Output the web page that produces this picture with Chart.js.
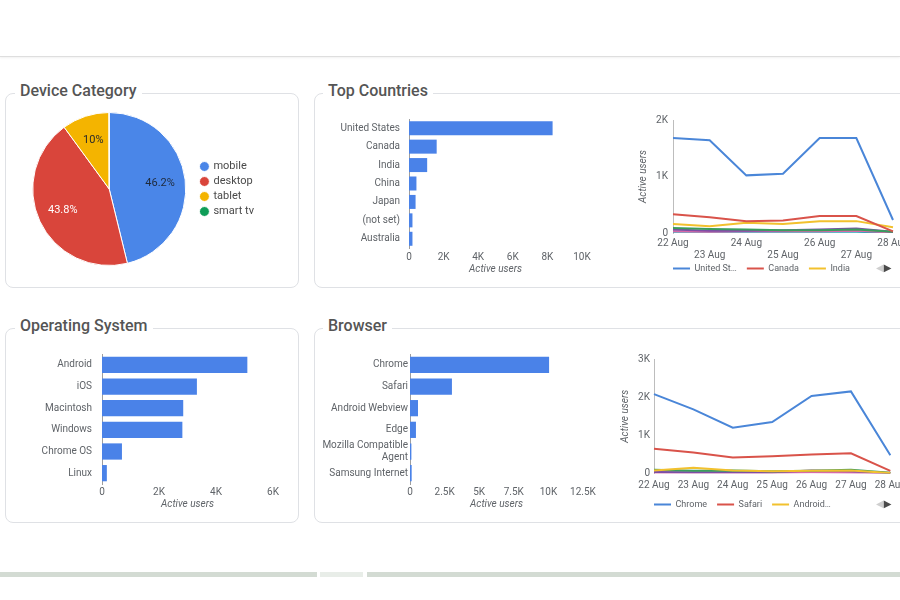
<!DOCTYPE html>
<html lang="en">
<head>
<meta charset="utf-8">
<title>Dashboard</title>
<script src="https://cdn.jsdelivr.net/npm/chart.js@4.4.1/dist/chart.umd.min.js"></script>
<style>
  html, body { margin:0; padding:0; background:#ffffff; }
  #page { position:relative; width:900px; height:600px; overflow:hidden; background:#fff; font-family: Roboto, "Noto Sans", Arial, sans-serif; }
  .topbar { position:absolute; left:0; top:0; width:900px; height:56px; background:#fff; border-bottom:1px solid #dedede; box-shadow:0 1px 2px rgba(0,0,0,0.06); }
  .card { position:absolute; box-sizing:border-box; border:1px solid #dfe1e5; border-radius:8px; background:#fff; }
  .ttl { position:absolute; background:#fff; padding:0 5px; font-size:16px; font-weight:500; line-height:18px; color:#555555; white-space:nowrap; }
  canvas { position:absolute; }
  .nav { position:absolute; font-family:"DejaVu Sans", sans-serif; font-size:10px; line-height:12px; white-space:nowrap; }
  .sb { position:absolute; top:572px; height:5px; background:#d3dbd3; }
</style>
</head>
<body>
<div id="page">
  <div class="topbar"></div>

  <div class="card" style="left:5px;top:93px;width:294px;height:195px"></div>
  <div class="card" style="left:314px;top:93px;width:640px;height:195px"></div>
  <div class="card" style="left:5px;top:328px;width:294px;height:195px"></div>
  <div class="card" style="left:314px;top:328px;width:640px;height:195px"></div>

  <div class="ttl" style="left:15px;top:82px">Device Category</div>
  <div class="ttl" style="left:323px;top:82px">Top Countries</div>
  <div class="ttl" style="left:15px;top:317px">Operating System</div>
  <div class="ttl" style="left:323px;top:317px">Browser</div>

  <canvas id="pie" width="260" height="154" style="left:0px;top:112px"></canvas>
  <canvas id="countriesBar" width="280" height="177" style="left:320px;top:104px"></canvas>
  <canvas id="countriesLine" width="280" height="183" style="left:633px;top:109px"></canvas>
  <canvas id="osBar" width="280" height="180" style="left:10px;top:338px"></canvas>
  <canvas id="browserBar" width="290" height="174" style="left:310px;top:344px"></canvas>
  <canvas id="browserLine" width="297" height="170" style="left:615px;top:349px"></canvas>

  <div class="nav" style="left:876px;top:262px"><span style="color:#cfcfcf">&#9664;</span><span style="color:#4a4a4a">&#9654;</span></div>
  <div class="nav" style="left:876px;top:498px"><span style="color:#cfcfcf">&#9664;</span><span style="color:#4a4a4a">&#9654;</span></div>

  <div class="sb" style="left:0px;width:317px"></div>
  <div class="sb" style="left:320px;width:43px;background:#e8ede8"></div>
  <div class="sb" style="left:367px;width:533px"></div>
</div>

<script>
// ---------------- DATA ----------------
const deviceLabels = ['mobile', 'desktop', 'tablet', 'smart tv'];
const deviceShare = [46.2, 43.8, 10.0, 0.04];

const countryLabels = ['United States', 'Canada', 'India', 'China', 'Japan', '(not set)', 'Australia'];
const countryUsers = [8300, 1600, 1050, 430, 380, 200, 200];

const osLabels = ['Android', 'iOS', 'Macintosh', 'Windows', 'Chrome OS', 'Linux'];
const osUsers = [5100, 3330, 2850, 2820, 700, 170];

const browserLabels = ['Chrome', 'Safari', 'Android Webview', 'Edge', ['Mozilla Compatible', 'Agent'], 'Samsung Internet'];
const browserUsers = [10050, 3030, 580, 430, 100, 120];

const days = ['22 Aug', '23 Aug', '24 Aug', '25 Aug', '26 Aug', '27 Aug', '28 Aug'];

const countrySeriesNames = ['United States', 'Canada', 'India', 'China', 'Japan', '(not set)', 'Australia'];
const usDaily        = [1680, 1640, 1020, 1050, 1680, 1680, 230];
const canadaDaily    = [330, 280, 210, 220, 300, 300, 30];
const indiaDaily     = [160, 120, 180, 160, 210, 210, 100];
const chinaDaily     = [90, 70, 60, 50, 50, 60, 20];
const japanDaily     = [60, 40, 40, 50, 60, 80, 20];
const notSetDaily    = [30, 20, 30, 30, 30, 40, 10];
const australiaDaily = [20, 20, 20, 20, 20, 20, 10];

const browserSeriesNames = ['Chrome', 'Safari', 'Android Webview', 'Edge', 'Mozilla Compatible Agent', 'Samsung Internet'];
const chromeDaily  = [2080, 1680, 1200, 1350, 2030, 2150, 480];
const safariDaily  = [650, 550, 420, 450, 500, 530, 70];
const webviewDaily = [80, 150, 80, 60, 70, 80, 10];
const edgeDaily    = [100, 70, 80, 60, 70, 100, 20];
const mozillaDaily = [40, 30, 30, 30, 80, 60, 10];
const samsungDaily = [20, 20, 20, 20, 30, 20, 5];

const countryTicksMax = 10000, countryTicksStep = 2000;
const osTicksMax = 6000, osTicksStep = 2000;
const browserTicksMax = 12500, browserTicksStep = 2500;
const countryLineMax = 2000, browserLineMax = 3000, lineStep = 1000;

// ---------------- STYLE ----------------
const FONT = 'Roboto, "Noto Sans", Arial, sans-serif';
const TICK = '#5f6368';
const BAR_BLUE = '#4a82e8';
const PIE_COLORS = ['#4a86e8', '#d9453b', '#f4b400', '#0f9d58'];
const PIE_TEXT = ['#1f2a3a', '#ffffff', '#2a2a2a', '#2a2a2a'];
const LINE_COLORS = ['#4a86d8', '#d9534a', '#f2c12e', '#3a9d5d', '#7b4fa6', '#d868a8', '#26a6b8'];

Chart.defaults.font.family = FONT;
Chart.defaults.color = TICK;

const fmtK = v => v === 0 ? '0' : (v / 1000) + 'K';

const legendShift = {
  id: 'legendShift',
  afterLayout(chart, args, o) {
    const L = chart.legend;
    if (!L || !o) return;
    if (o.dx) { L.left += o.dx; L.right += o.dx; }
    if (o.dy) { L.top += o.dy; L.bottom += o.dy; }
  }
};

const pieLabels = {
  id: 'pieLabels',
  afterDatasetsDraw(chart) {
    const meta = chart.getDatasetMeta(0);
    const data = chart.data.datasets[0].data;
    const total = data.reduce((a, b) => a + b, 0);
    const ctx = chart.ctx;
    ctx.save();
    ctx.font = '11px ' + FONT;
    ctx.textAlign = 'center';
    ctx.textBaseline = 'middle';
    meta.data.forEach((arc, i) => {
      const pct = data[i] / total * 100;
      if (pct < 5) return;
      const p = arc.getProps(['x', 'y', 'startAngle', 'endAngle', 'outerRadius'], true);
      const mid = (p.startAngle + p.endAngle) / 2;
      const r = p.outerRadius * 0.67;
      ctx.fillStyle = PIE_TEXT[i];
      ctx.fillText(pct.toFixed(1).replace(/\.0$/, '') + '%', p.x + Math.cos(mid) * r, p.y + Math.sin(mid) * r);
    });
    ctx.restore();
  }
};

// ---------------- PIE ----------------
(function () {
  const c = document.getElementById('pie');
  const m = document.createElement('canvas').getContext('2d');
  m.font = '11px ' + FONT;
  const tw = Math.max(...deviceLabels.map(l => m.measureText(l).width));
  const legendLeft = 196.5;
  c.width = Math.ceil(legendLeft + 4 + 7 + 5.5 + tw + 10);
  new Chart(c, {
    type: 'pie',
    data: { labels: deviceLabels, datasets: [{ data: deviceShare, backgroundColor: PIE_COLORS, borderColor: '#ffffff', borderWidth: 1 }] },
    options: {
      responsive: false, animation: false,
      layout: { padding: { left: 21.5, top: 0, bottom: 0, right: 0 } },
      plugins: {
        tooltip: { enabled: false },
        legend: {
          position: 'right', align: 'center',
          labels: { usePointStyle: true, pointStyle: 'circle', boxWidth: 7, boxHeight: 7, padding: 4, color: '#4a4a4a', font: { size: 11 } }
        }
      }
    },
    plugins: [pieLabels]
  });
})();

// ---------------- BARS ----------------
function barChart(id, labels, values, o) {
  new Chart(document.getElementById(id), {
    type: 'bar',
    data: { labels: labels, datasets: [{ data: values, backgroundColor: BAR_BLUE, barPercentage: o.bp, categoryPercentage: 1 }] },
    options: {
      indexAxis: 'y', responsive: false, animation: false,
      layout: { padding: { top: o.pt, right: o.pr, bottom: o.pb, left: 0 } },
      plugins: { legend: { display: false }, tooltip: { enabled: false } },
      scales: {
        x: {
          min: 0, max: o.max,
          ticks: { stepSize: o.step, callback: fmtK, color: TICK, font: { size: 10 }, padding: o.xp, maxRotation: 0, autoSkip: false },
          grid: { display: false, drawTicks: false },
          border: { display: false },
          title: { display: true, text: 'Active users', color: TICK, font: { size: 10, style: 'italic' }, padding: { top: 0, bottom: 4 } },
          afterFit: s => { s.height = o.xh; }
        },
        y: {
          ticks: { color: TICK, font: { size: 10 }, padding: o.lp, autoSkip: false },
          grid: { display: false, drawTicks: false },
          border: { display: true, color: '#9e9e9e', width: 1 },
          afterFit: s => { s.width = o.yw; }
        }
      }
    }
  });
}

barChart('countriesBar', countryLabels, countryUsers, { bp: 0.76, pt: 0, pr: 18, pb: 2, xh: 31, xp: 3, yw: 89, lp: 9, max: countryTicksMax, step: countryTicksStep });
barChart('osBar', osLabels, osUsers, { bp: 0.75, pt: 0, pr: 17, pb: 4, xh: 30, xp: 2, yw: 92, lp: 10, max: osTicksMax, step: osTicksStep });
barChart('browserBar', browserLabels, browserUsers, { bp: 0.75, pt: 10, pr: 17, pb: 4, xh: 30, xp: 2, yw: 100, lp: 2, max: browserTicksMax, step: browserTicksStep });

// ---------------- LINES ----------------
function fitText(ctx, t, w) {
  if (ctx.measureText(t).width <= w) return t;
  let s = t;
  while (s.length > 1 && ctx.measureText(s.trim() + '\u2026').width > w) s = s.slice(0, -1);
  return s.trim() + '\u2026';
}

function lineChart(id, names, series, o) {
  new Chart(document.getElementById(id), {
    type: 'line',
    data: {
      labels: days,
      datasets: names.map((n, i) => ({
        label: n, data: series[i], borderColor: LINE_COLORS[i], backgroundColor: LINE_COLORS[i],
        borderWidth: 2, pointRadius: 0, tension: 0, fill: false
      }))
    },
    options: {
      responsive: false, animation: false,
      layout: { padding: { top: 10, right: 20, bottom: 0, left: 0 } },
      plugins: {
        tooltip: { enabled: false },
        legendShift: { dx: -10, dy: o.ldy },
        legend: {
          position: 'bottom', align: 'start', fullSize: false,
          labels: {
            usePointStyle: true, pointStyle: 'line', pointStyleWidth: 17, padding: 10,
            color: TICK, font: { size: 9 },
            filter: item => item.datasetIndex < 3,
            generateLabels: chart => {
              const items = Chart.defaults.plugins.legend.labels.generateLabels(chart);
              const ctx = chart.ctx;
              ctx.save(); ctx.font = '9px ' + FONT;
              items.forEach(it => { it.text = fitText(ctx, it.text, 46); });
              ctx.restore();
              return items;
            }
          }
        }
      },
      scales: {
        x: {
          ticks: {
            color: TICK, font: { size: 10 }, padding: o.xp, autoSkip: false, maxRotation: 0, minRotation: 0,
            callback: function (v, i) { const l = this.getLabelForValue(v); return (o.stagger && i % 2) ? ['', l] : l; }
          },
          grid: { display: false, drawTicks: false },
          border: { display: false },
          afterFit: s => { s.height = o.xh; }
        },
        y: {
          min: 0, max: o.max,
          ticks: { stepSize: lineStep, callback: fmtK, color: TICK, font: { size: 10 }, padding: o.yp },
          grid: { display: false, drawTicks: false },
          border: { display: true, color: '#bdbdbd', width: 1 },
          title: { display: true, text: 'Active users', color: TICK, font: { size: 10, style: 'italic' }, padding: { top: 4, bottom: 0 } },
          afterFit: s => { s.width = o.yw; }
        }
      }
    },
    plugins: [legendShift]
  });
}

lineChart('countriesLine', countrySeriesNames,
  [usDaily, canadaDaily, indiaDaily, chinaDaily, japanDaily, notSetDaily, australiaDaily],
  { max: countryLineMax, stagger: true, xp: 4, xh: 30, ldy: -9, yw: 40, yp: 5 });
lineChart('browserLine', browserSeriesNames,
  [chromeDaily, safariDaily, webviewDaily, edgeDaily, mozillaDaily, samsungDaily],
  { max: browserLineMax, stagger: false, xp: 6, xh: 16.5, ldy: 0, yw: 39, yp: 4 });
</script>
</body>
</html>
